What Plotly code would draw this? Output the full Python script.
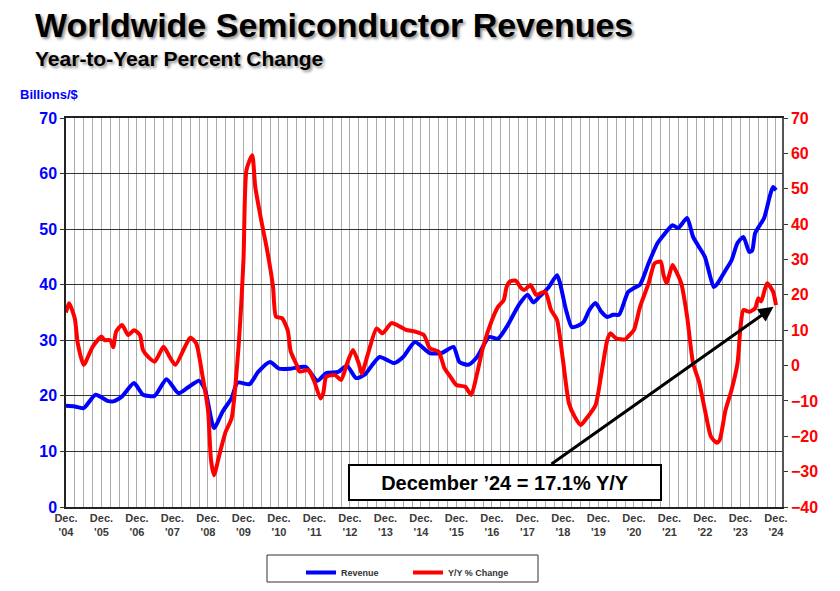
import plotly.graph_objects as go

# ---------------- data ----------------
rev_dates = ["2004-12", "2005-03", "2005-06", "2005-10", "2006-02", "2006-04", "2006-07", "2006-11",
             "2007-02", "2007-06", "2007-10", "2008-02", "2008-05", "2008-09", "2008-11", "2009-02",
             "2009-05", "2009-08", "2009-10", "2010-02", "2010-05", "2010-09", "2010-12", "2011-04",
             "2011-09", "2012-01", "2012-04", "2012-08", "2012-11", "2013-02", "2013-05", "2013-10",
             "2014-03", "2014-06", "2014-10", "2015-03", "2015-07", "2015-11", "2016-01", "2016-04",
             "2016-07", "2016-11", "2017-02", "2017-05", "2017-09", "2017-12", "2018-02", "2018-04",
             "2018-07", "2018-10", "2018-11", "2019-01", "2019-03", "2019-05", "2019-07", "2019-09",
             "2019-11", "2020-01", "2020-03", "2020-05", "2020-07", "2020-10", "2020-12", "2021-02",
             "2021-05", "2021-08", "2021-10", "2022-01", "2022-03", "2022-06", "2022-08", "2022-10",
             "2022-12", "2023-03", "2023-04", "2023-07", "2023-09", "2023-11", "2024-01", "2024-03",
             "2024-04", "2024-05", "2024-08", "2024-10", "2024-11", "2024-12"]
revenue = [18.2, 18.1, 17.8, 20.2, 19.1, 19.0, 19.9, 22.3,
           20.2, 20.0, 23.0, 20.5, 21.4, 22.7, 21.1, 14.2,
           17.2, 19.6, 22.4, 22.1, 24.3, 26.1, 24.9, 24.9,
           25.2, 22.7, 24.1, 24.3, 25.4, 23.2, 23.8, 27.0,
           25.9, 27.0, 29.7, 27.7, 27.7, 28.8, 26.1, 25.6,
           27.0, 30.6, 30.3, 32.4, 36.3, 38.2, 36.8, 37.8,
           39.4, 41.7, 40.3, 35.5, 32.4, 32.6, 33.3, 35.5,
           36.7, 35.1, 34.2, 34.6, 34.6, 38.7, 39.4, 40.0,
           43.9, 47.5, 48.9, 50.7, 50.2, 52.0, 48.6, 46.8,
           45.0, 39.6, 40.0, 42.6, 44.4, 47.5, 48.6, 45.9,
           46.2, 49.3, 52.0, 56.1, 57.6, 57.0]

yoy_dates = ["2004-12", "2005-01", "2005-03", "2005-04", "2005-06", "2005-09", "2005-12", "2006-01",
             "2006-03", "2006-04", "2006-05", "2006-07", "2006-09", "2006-11", "2007-01", "2007-02",
             "2007-04", "2007-06", "2007-09", "2007-11", "2008-01", "2008-04", "2008-06", "2008-08",
             "2008-10", "2008-12", "2009-01", "2009-02", "2009-04", "2009-06", "2009-08", "2009-10",
             "2009-12", "2010-01", "2010-03", "2010-04", "2010-06", "2010-08", "2010-10", "2010-11",
             "2011-01", "2011-03", "2011-04", "2011-06", "2011-07", "2011-10", "2011-12", "2012-02",
             "2012-03", "2012-04", "2012-07", "2012-09", "2012-11", "2013-01", "2013-03", "2013-04",
             "2013-06", "2013-09", "2013-11", "2014-02", "2014-05", "2014-07", "2014-10", "2015-01",
             "2015-03", "2015-06", "2015-08", "2015-10", "2015-12", "2016-03", "2016-05", "2016-07",
             "2016-09", "2016-12", "2017-02", "2017-04", "2017-05", "2017-06", "2017-08", "2017-10",
             "2017-11", "2018-01", "2018-03", "2018-06", "2018-08", "2018-10", "2018-12", "2019-02",
             "2019-04", "2019-06", "2019-08", "2019-11", "2020-01", "2020-03", "2020-04", "2020-06",
             "2020-09", "2020-10", "2020-12", "2021-02", "2021-05", "2021-07", "2021-09", "2021-10",
             "2021-11", "2022-01", "2022-02", "2022-04", "2022-06", "2022-08", "2022-10", "2022-12",
             "2023-02", "2023-04", "2023-05", "2023-07", "2023-09", "2023-11", "2023-12", "2024-01",
             "2024-03", "2024-05", "2024-06", "2024-07", "2024-09", "2024-11", "2024-12"]
yoy_change = [15.0, 17.6, 13.4, 6.3, 0.2, 5.3, 8.2, 7.2,
              7.2, 5.2, 9.6, 11.5, 8.6, 10.0, 8.6, 4.4,
              2.3, 1.1, 5.3, 2.5, 0.2, 4.9, 7.9, 6.3,
              -2.2, -12.6, -26.7, -31.0, -24.8, -18.7, -14.9, 1.6,
              29.9, 55.3, 59.5, 50.6, 41.2, 32.7, 22.3, 13.8,
              13.4, 10.0, 4.0, 0.2, -1.7, -1.3, -4.6, -9.3,
              -7.8, -3.2, -2.7, -4.1, 0.6, 4.4, 0.6, -2.2,
              3.0, 10.5, 9.1, 12.0, 11.0, 10.1, 9.6, 8.6,
              4.9, 3.9, -0.8, -3.2, -5.5, -6.0, -8.3, -2.2,
              5.3, 12.9, 16.6, 18.5, 22.3, 23.7, 24.0, 21.8,
              21.4, 22.8, 20.0, 20.9, 15.7, 12.9, 1.6, -10.7,
              -14.5, -16.8, -14.9, -11.2, -2.2, 7.2, 9.1, 7.7,
              7.4, 8.2, 10.1, 16.6, 23.3, 28.9, 29.4, 25.6,
              23.3, 28.4, 27.0, 23.3, 13.8, 0.6, -4.6, -12.6,
              -20.1, -21.8, -21.1, -12.6, -6.9, 0.6, 10.5, 15.7,
              15.2, 16.2, 19.0, 18.1, 23.3, 20.9, 17.1]

tick_years = list(range(2004, 2025))
tick_vals = [f"{y}-12-01" for y in tick_years]
tick_text = [f"Dec.<br>'{y % 100:02d}" for y in tick_years]

FONT = "Arial, Liberation Sans, sans-serif"
BLUE = "#0000ff"
RED = "#ff0000"

# plot-area geometry in pixels
L, R, T, B = 66, 782, 118, 507
W, H = R - L, B - T


def px_x(p):
    return (p - L) / W


def px_y(p):
    return (B - p) / H


fig = go.Figure()
fig.add_trace(go.Scatter(x=rev_dates, y=revenue, name="Revenue", mode="lines",
                         line=dict(color=BLUE, width=4, shape="spline", smoothing=0.6),
                         yaxis="y"))
fig.add_trace(go.Scatter(x=yoy_dates, y=yoy_change, name="Y/Y % Change", mode="lines",
                         line=dict(color=RED, width=4, shape="spline", smoothing=0.6),
                         yaxis="y2"))

fig.update_layout(
    width=840, height=591,
    margin=dict(l=L, r=840 - R, t=T, b=591 - B, autoexpand=False),
    paper_bgcolor="white", plot_bgcolor="white",
    font=dict(family=FONT),
    showlegend=True,
    legend=dict(orientation="h", x=px_x(301), y=px_y(558),
                xanchor="left", yanchor="top", bgcolor="rgba(0,0,0,0)",
                font=dict(size=9, color="#333333", weight="bold"),
                entrywidthmode="pixels", entrywidth=62, borderwidth=0),
    xaxis=dict(type="date", range=["2004-12-01", "2025-02-01"],
               tickmode="array", tickvals=tick_vals, ticktext=tick_text,
               tickfont=dict(size=11, color="#3a3a3a", weight="bold"),
               showgrid=True, gridcolor="#ababab", gridwidth=1,
               minor=dict(dtick="M3", tick0="2004-12-01", showgrid=True,
                          gridcolor="#ababab", gridwidth=1),
               showline=True, linecolor="#222222", linewidth=1.5, mirror=True,
               ticks="", zeroline=False),
    yaxis=dict(range=[0, 70], dtick=10, tickfont=dict(size=16, color=BLUE, weight="bold"),
               showgrid=True, gridcolor="#333333", gridwidth=1,
               showline=True, linecolor="#222222", linewidth=1.5,
               ticks="outside", ticklen=4, tickcolor="#333333", zeroline=False),
    yaxis2=dict(range=[-40, 70], dtick=10, overlaying="y", side="right",
                tickfont=dict(size=16, color=RED, weight="bold"),
                showgrid=False, showline=True, linecolor="#555555", linewidth=1.5,
                ticks="outside", ticklen=4, tickcolor="#333333", zeroline=False),
)

title_shadow = "2px 2px 3px rgba(0,0,0,0.45)"
fig.add_annotation(text="<b>Worldwide Semiconductor Revenues</b>", xref="paper", yref="paper",
                   x=px_x(33), y=px_y(25), xanchor="left", yanchor="middle",
                   showarrow=False, font=dict(size=34, color="black", family=FONT, shadow=title_shadow))
fig.add_annotation(text="<b>Year-to-Year Percent Change</b>", xref="paper", yref="paper",
                   x=px_x(33), y=px_y(58), xanchor="left", yanchor="middle",
                   showarrow=False, font=dict(size=21, color="black", family=FONT, shadow=title_shadow))
fig.add_annotation(text="<b>Billions/$</b>", xref="paper", yref="paper",
                   x=px_x(18), y=px_y(95), xanchor="left", yanchor="middle",
                   showarrow=False, font=dict(size=13, color=BLUE, family=FONT))

# callout box
fig.add_annotation(text="<b>December ’24 = 17.1% Y/Y</b>", xref="paper", yref="paper",
                   x=px_x(505), y=px_y(482.5), xanchor="center", yanchor="middle",
                   showarrow=False, font=dict(size=20, color="black", family=FONT),
                   bgcolor="white", bordercolor="black", borderwidth=2, borderpad=2,
                   width=306, height=29)
# arrow pointing at the latest Y/Y value
fig.add_annotation(text="", x=yoy_dates[-1], y=yoy_change[-1], xref="x", yref="y2",
                   showarrow=True, ax=-226, ay=160, axref="pixel", ayref="pixel",
                   arrowhead=2, arrowsize=1, arrowwidth=3, arrowcolor="black", standoff=3)

# legend frame
fig.add_shape(type="rect", xref="paper", yref="paper",
              x0=px_x(267), x1=px_x(538), y0=px_y(555), y1=px_y(582),
              line=dict(color="#333333", width=1), fillcolor="rgba(0,0,0,0)")

fig.write_html("out.html", config={"displayModeBar": False},
               post_script="document.body.style.margin='0';document.body.style.padding='0';")
